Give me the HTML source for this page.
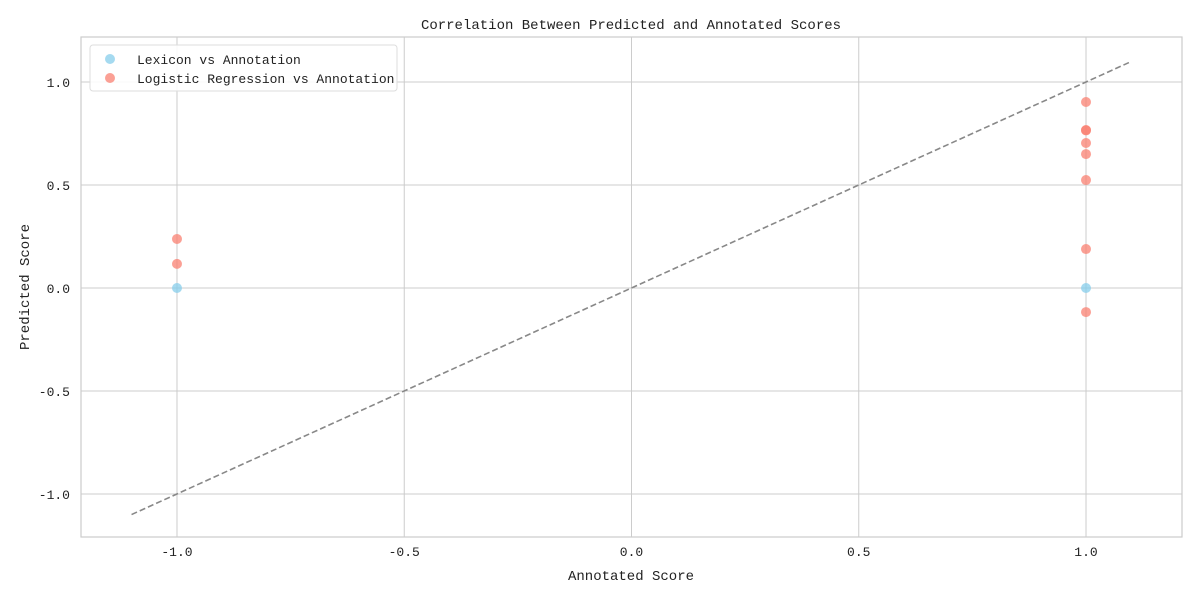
<!DOCTYPE html>
<html><head><meta charset="utf-8"><style>
body{margin:0;background:#fff;}
svg text{font-family:"WenQuanYi Zen Hei","Liberation Mono",monospace;fill:#222;}
</style></head><body>
<svg id="chart" width="1200" height="600"></svg>
<script>
const lexX=[-1,1];
const lexY=[0,0];
const lrX=[-1,-1,1,1,1,1,1,1,1,1];
const lrY=[0.238,0.117,0.903,0.767,0.765,0.704,0.650,0.524,0.189,-0.117];
const xTicks=[-1.0,-0.5,0.0,0.5,1.0];
const yTicks=[-1.0,-0.5,0.0,0.5,1.0];
const xTickLabels=["-1.0","-0.5","0.0","0.5","1.0"];
const yTickLabels=["-1.0","-0.5","0.0","0.5","1.0"];
const diagLine=[-1.1,1.1];

const L=81,R=1182,T=37,B=537;
const xmin=-1.2112,xmax=1.2112,ymin=-1.209,ymax=1.2185;
const sx=v=>L+(v-xmin)/(xmax-xmin)*(R-L);
const sy=v=>B-(v-ymin)/(ymax-ymin)*(B-T);
const svg=document.getElementById('chart');
const NS='http://www.w3.org/2000/svg';
function mk(tag,attrs,parent){const e=document.createElementNS(NS,tag);for(const k in attrs)e.setAttribute(k,attrs[k]);(parent||svg).appendChild(e);return e;}

const t=mk('text',{x:631,y:29,'text-anchor':'middle','font-size':14});
t.textContent='Correlation Between Predicted and Annotated Scores';



xTicks.forEach((v,i)=>{
  const g=mk('line',{x1:sx(v),x2:sx(v),y1:T,y2:B,stroke:'#cccccc','stroke-width':1});
  
  
  const l=mk('text',{x:sx(v),y:B+19,'text-anchor':'middle','font-size':13});
  l.textContent=xTickLabels[i];
  
  
});
yTicks.forEach((v,i)=>{
  const g=mk('line',{x1:L,x2:R,y1:sy(v),y2:sy(v),stroke:'#cccccc','stroke-width':1});
  
  
  const l=mk('text',{x:L-11,y:sy(v)+5,'text-anchor':'end','font-size':13});
  l.textContent=yTickLabels[i];
  
  
});
const fr=mk('rect',{x:L,y:T,width:R-L,height:B-T,fill:'none',stroke:'#cccccc','stroke-width':1.2});



const dl=mk('line',{x1:sx(diagLine[0]),y1:sy(diagLine[0]),x2:sx(diagLine[1]),y2:sy(diagLine[1]),stroke:'#888','stroke-width':1.6,'stroke-dasharray':'6,3'});



lexX.forEach((v,i)=>{
  const c=mk('circle',{cx:sx(v),cy:sy(lexY[i]),r:5,fill:'#87ceeb','fill-opacity':0.75});
  
  
});
lrX.forEach((v,i)=>{
  const c=mk('circle',{cx:sx(v),cy:sy(lrY[i]),r:5,fill:'#fa8072','fill-opacity':0.75});
  
  
});

const xa=mk('text',{x:631,y:580,'text-anchor':'middle','font-size':14});
xa.textContent='Annotated Score';


const ya=mk('text',{x:29,y:287,'text-anchor':'middle','font-size':14,transform:'rotate(-90 29 287)'});
ya.textContent='Predicted Score';



const lg=mk('g',{});


mk('rect',{x:90,y:45,width:307,height:46,rx:3,fill:'#fff','fill-opacity':0.85,stroke:'#ddd'},lg);
[['Lexicon vs Annotation','#87ceeb',59],['Logistic Regression vs Annotation','#fa8072',78]].forEach(([s,c,y])=>{
  const e=mk('g',{},lg);
  
  
  mk('circle',{cx:110,cy:y,r:5,fill:c,'fill-opacity':0.75},e);
  const tx=mk('text',{x:137,y:y+5,'font-size':13},e);
  tx.textContent=s;
});
</script>
</body></html>
